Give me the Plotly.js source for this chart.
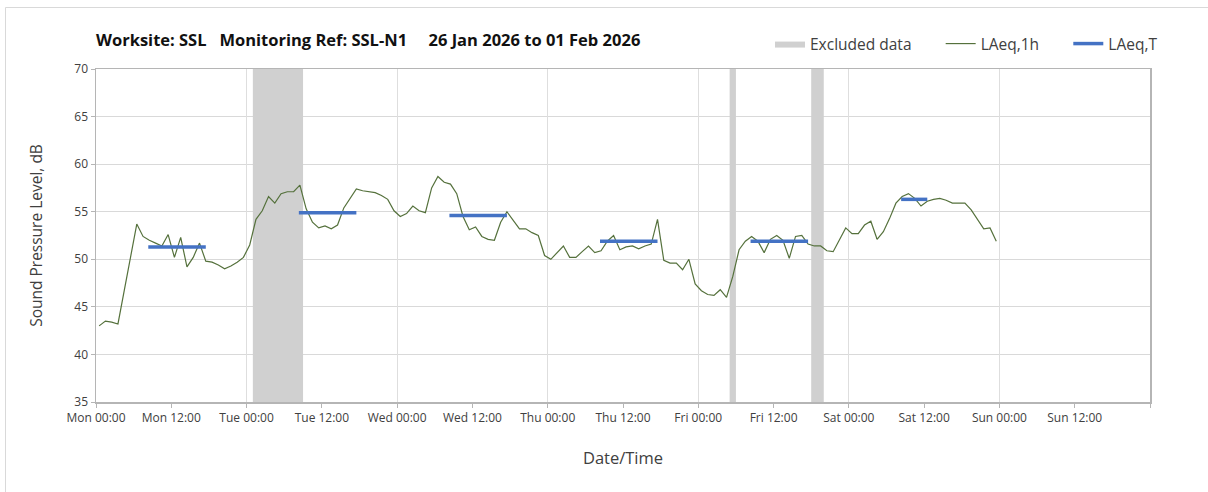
<!DOCTYPE html>
<html>
<head>
<meta charset="utf-8">
<script src="https://cdn.plot.ly/plotly-3.0.1.min.js"></script>
<style>
  html, body { margin: 0; padding: 0; background: #ffffff; }
  #chart { width: 1208px; height: 492px; }
</style>
</head>
<body>
<div id="chart"></div>
<script>
// ---- Data ----
var startTime = '2026-01-26T00:30:00';   // first hourly LAeq,1h value (bin centre)
var monVals = [43.0, 43.5, 43.4, 43.2, 46.7, 50.2, 53.7, 52.4, 52.0, 51.7, 51.4, 52.6, 50.2, 52.3, 49.2, 50.2, 51.7, 49.8, 49.7, 49.4, 49.0, 49.3, 49.7, 50.2];
var tueVals = [51.5, 54.2, 55.1, 56.6, 55.9, 56.9, 57.1, 57.1, 57.8, 55.3, 53.9, 53.3, 53.5, 53.2, 53.6, 55.4, 56.4, 57.4, 57.2, 57.1, 57.0, 56.7, 56.3, 55.1];
var wedVals = [54.5, 54.8, 55.6, 55.1, 54.9, 57.5, 58.7, 58.1, 57.9, 56.9, 54.5, 53.1, 53.4, 52.4, 52.1, 52.0, 53.9, 55.0, 54.1, 53.2, 53.2, 52.8, 52.5, 50.4];
var thuVals = [50.0, 50.7, 51.4, 50.2, 50.2, 50.8, 51.4, 50.7, 50.9, 51.9, 52.5, 51.0, 51.3, 51.4, 51.1, 51.4, 51.6, 54.2, 49.9, 49.6, 49.6, 48.9, 50.0, 47.4];
var friVals = [46.7, 46.3, 46.2, 46.8, 46.0, 48.2, 51.0, 51.9, 52.4, 51.9, 50.7, 52.1, 52.5, 52.0, 50.1, 52.4, 52.5, 51.6, 51.4, 51.4, 50.9, 50.8, 52.0, 53.3];
var satVals = [52.7, 52.7, 53.6, 54.0, 52.1, 52.9, 54.3, 55.9, 56.6, 56.9, 56.4, 55.6, 56.1, 56.3, 56.4, 56.2, 55.9, 55.9, 55.9, 55.2, 54.2, 53.2, 53.3, 51.9];

// LAeq,T daytime periods
var periodStart = ['2026-01-26 08:20', '2026-01-27 08:20', '2026-01-28 08:20', '2026-01-29 08:20', '2026-01-30 08:20', '2026-01-31 08:20'];
var periodEnd   = ['2026-01-26 17:30', '2026-01-27 17:30', '2026-01-28 17:30', '2026-01-29 17:30', '2026-01-30 17:30', '2026-01-31 12:30'];
var periodVals  = [51.3, 54.9, 54.6, 51.9, 51.9, 56.3];

// Excluded data periods
var exclStart = ['2026-01-27 01:00', '2026-01-30 05:00', '2026-01-30 18:00'];
var exclEnd   = ['2026-01-27 09:00', '2026-01-30 06:00', '2026-01-30 20:00'];

// X axis ticks (12-hourly) and labels
var tickTimes = ['2026-01-26 00:00', '2026-01-26 12:00', '2026-01-27 00:00', '2026-01-27 12:00',
                 '2026-01-28 00:00', '2026-01-28 12:00', '2026-01-29 00:00', '2026-01-29 12:00',
                 '2026-01-30 00:00', '2026-01-30 12:00', '2026-01-31 00:00', '2026-01-31 12:00',
                 '2026-02-01 00:00', '2026-02-01 12:00', '2026-02-02 00:00'];
var tickLabels = ['Mon 00:00', 'Mon 12:00', 'Tue 00:00', 'Tue 12:00', 'Wed 00:00', 'Wed 12:00',
                  'Thu 00:00', 'Thu 12:00', 'Fri 00:00', 'Fri 12:00', 'Sat 00:00', 'Sat 12:00',
                  'Sun 00:00', 'Sun 12:00', ''];

var xRange = ['2026-01-26 00:00', '2026-02-02 00:00'];
var yRange = [35, 70];

// ---- Build traces ----
function pad(n) { return (n < 10 ? '0' : '') + n; }
function fmt(d) {
  return d.getUTCFullYear() + '-' + pad(d.getUTCMonth() + 1) + '-' + pad(d.getUTCDate()) + ' ' +
         pad(d.getUTCHours()) + ':' + pad(d.getUTCMinutes());
}
var hourlyVals = [].concat(monVals, tueVals, wedVals, thuVals, friVals, satVals);
var t0 = new Date(startTime + 'Z').getTime();
var hourlyTimes = hourlyVals.map(function (v, i) { return fmt(new Date(t0 + i * 3600000)); });

var tX = [], tY = [];
periodVals.forEach(function (v, i) {
  tX.push(periodStart[i], periodEnd[i], null);
  tY.push(v, v, null);
});

var eX = [], eY = [];
exclStart.forEach(function (s, i) {
  eX.push(s, s, exclEnd[i], exclEnd[i], s, null);
  eY.push(yRange[0], yRange[1], yRange[1], yRange[0], yRange[0], null);
});

var FONT = '"Open Sans", Lato, sans-serif';
var NB = '\u00A0';

var traces = [
  {
    name: 'Excluded data' + NB + NB + NB + NB + NB + NB,
    x: eX, y: eY, xaxis: 'x', yaxis: 'y',
    type: 'scatter', mode: 'lines', fill: 'toself',
    fillcolor: '#d0d0d0', line: { width: 0, color: '#d0d0d0' },
    hoverinfo: 'skip'
  },
  {
    name: 'LAeq,1h' + NB + NB + NB + NB + NB + NB,
    x: hourlyTimes, y: hourlyVals, xaxis: 'x2', yaxis: 'y',
    type: 'scatter', mode: 'lines',
    line: { color: '#55713c', width: 1.2 }
  },
  {
    name: 'LAeq,T',
    x: tX, y: tY, xaxis: 'x2', yaxis: 'y',
    type: 'scatter', mode: 'lines', connectgaps: false,
    line: { color: '#4472c4', width: 3.5 }
  }
];

var layout = {
  width: 1208, height: 492,
  margin: { l: 96, r: 58, t: 69, b: 90, pad: 0 },
  paper_bgcolor: '#ffffff', plot_bgcolor: '#ffffff',
  font: { family: FONT, size: 12, color: '#404040' },
  title: {
    text: '<b>Worksite: SSL' + NB + NB + NB + 'Monitoring Ref: SSL-N1' + NB + NB + NB + NB + NB + '26 Jan 2026 to 01 Feb 2026</b>',
    font: { family: FONT, size: 16.5, color: '#111111' },
    xref: 'container', yref: 'container',
    x: 96 / 1208, xanchor: 'left',
    y: 1 - 40 / 492, yanchor: 'middle'
  },
  showlegend: true,
  legend: {
    orientation: 'h',
    xref: 'container', yref: 'container',
    x: 770 / 1208, xanchor: 'left',
    y: 1 - 44 / 492, yanchor: 'middle',
    font: { family: FONT, size: 15.5, color: '#404040' },
    bgcolor: 'rgba(0,0,0,0)',
    itemwidth: 30,
    traceorder: 'normal'
  },
  xaxis: {
    type: 'date',
    range: xRange,
    tickmode: 'array',
    tickvals: tickTimes,
    ticktext: tickLabels,
    ticks: 'outside', ticklen: 4, tickwidth: 1, tickcolor: '#b5b5b5',
    showgrid: false, zeroline: false,
    showline: true, linecolor: '#b5b5b5', linewidth: 1.5, mirror: true,
    tickfont: { family: FONT, size: 12, color: '#404040' },
    title: { text: 'Date/Time', font: { family: FONT, size: 16.5, color: '#404040' }, standoff: 27 },
    fixedrange: true
  },
  xaxis2: {
    type: 'date',
    overlaying: 'x', anchor: 'y', side: 'bottom',
    range: xRange,
    tick0: '2026-01-26 00:00',
    dtick: 86400000,
    showticklabels: false, ticks: '',
    showgrid: true, gridcolor: '#dedede', gridwidth: 1,
    showline: false, zeroline: false,
    fixedrange: true
  },
  yaxis: {
    range: yRange,
    dtick: 5, tick0: 35,
    ticks: 'outside', ticklen: 4, tickwidth: 1, tickcolor: '#b5b5b5',
    showgrid: true, gridcolor: '#d9d9d9', gridwidth: 1,
    zeroline: false,
    showline: true, linecolor: '#b5b5b5', linewidth: 1.5, mirror: true,
    tickfont: { family: FONT, size: 12, color: '#404040' },
    title: { text: 'Sound Pressure Level, dB', font: { family: FONT, size: 15.5, color: '#404040' }, standoff: 28 },
    fixedrange: true
  },
  shapes: [
    {
      type: 'rect', xref: 'paper', yref: 'paper', layer: 'below',
      x0: (5.5 - 96) / 1054, x1: (1230 - 96) / 1054,
      y0: (333 - 520) / 333, y1: (333 - (7.5 - 69)) / 333,
      line: { color: '#d9d9d9', width: 1 }, fillcolor: 'rgba(0,0,0,0)'
    }
  ]
};

Plotly.newPlot('chart', traces, layout, { displayModeBar: false, staticPlot: true });
</script>
</body>
</html>
